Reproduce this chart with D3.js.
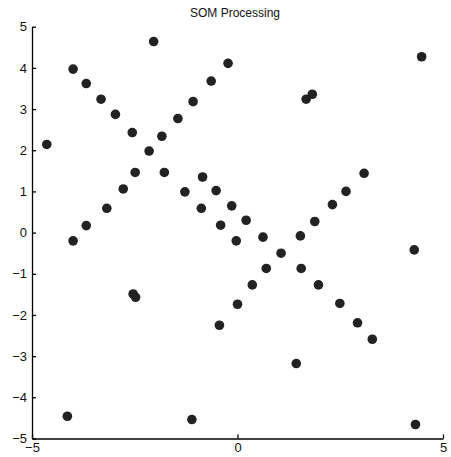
<!DOCTYPE html>
<html>
<head>
<meta charset="utf-8">
<script src="https://cdn.jsdelivr.net/npm/d3@7"></script>
<style>
  body { margin: 0; background: #fff; }
  text { font-family: "Liberation Sans", Arial, sans-serif; }
</style>
</head>
<body>
<svg id="chart" width="451" height="457"></svg>
<script>
// SOM node positions
var xs = [-4.64, -4.0, -3.68, -3.32, -2.97, -2.56, -2.15, -2.04, -1.84, -1.45, -1.08, -0.64, -0.23, 1.67, 1.82, 4.48,
  -4.0, -3.68, -3.18, -2.78, -2.49, -1.78, -1.28, -0.85, -0.88, -0.52, -0.41, -0.14, -0.03, 0.21, 0.62, 1.06, 0.70, 0.36,
  1.53, 1.55, 1.88, 1.97, 2.31, 2.64, 3.08, 4.30, -2.54, -2.48,
  0.0, 2.49, -0.44, 2.92, 3.28, 1.43, -4.14, -1.11, 4.33];
var ys = [2.14, 3.97, 3.62, 3.24, 2.87, 2.43, 1.98, 4.64, 2.34, 2.77, 3.18, 3.68, 4.11, 3.24, 3.36, 4.27,
  -0.2, 0.17, 0.59, 1.06, 1.46, 1.46, 0.99, 1.35, 0.59, 1.02, 0.18, 0.65, -0.2, 0.30, -0.11, -0.50, -0.87, -1.27,
  -0.08, -0.87, 0.27, -1.27, 0.68, 1.0, 1.44, -0.42, -1.49, -1.57,
  -1.74, -1.72, -2.25, -2.19, -2.59, -3.18, -4.46, -4.54, -4.66];
var xTicks = [-5, 0, 5];
var yTicks = [-5, -4, -3, -2, -1, 0, 1, 2, 3, 4, 5];

var svg = d3.select("#chart");
var x = d3.scaleLinear().domain([-5, 5]).range([32, 443]);
var y = d3.scaleLinear().domain([-5, 5]).range([438.5, 26.7]);

svg.append("text")
  .attr("x", 235).attr("y", 17)
  .attr("text-anchor", "middle")
  .attr("font-size", 12)
  .attr("fill", "#111")
  .text("SOM Processing");

var xAxis = svg.append("g")
  .attr("transform", "translate(0," + y(-5) + ")")
  .call(d3.axisBottom(x).tickValues(xTicks).tickSizeInner(-4).tickSizeOuter(0).tickPadding(2));
var yAxis = svg.append("g")
  .attr("transform", "translate(" + x(-5) + ",0)")
  .call(d3.axisLeft(y).tickValues(yTicks).tickSizeInner(-4).tickSizeOuter(0).tickPadding(5)
    .tickFormat(function(d) { return d < 0 ? "\u2212" + Math.abs(d) : d; }));
xAxis.selectAll("text").attr("dy", "0.9em")
  .text(function(d) { return d < 0 ? "\u2212" + Math.abs(d) : d; });

[xAxis, yAxis].forEach(function(g) {
  g.select(".domain").attr("stroke", "#000").attr("stroke-width", 1.3);
  g.selectAll(".tick line").attr("stroke", "#000").attr("stroke-width", 1.3);
  g.selectAll("text").attr("font-size", 13).attr("fill", "#111")
    .attr("font-family", "'Liberation Sans', Arial, sans-serif");
});

svg.append("g").selectAll("circle")
  .data(d3.range(xs.length))
  .join("circle")
  .attr("cx", function(i) { return x(xs[i]); })
  .attr("cy", function(i) { return y(ys[i]); })
  .attr("r", 4.8)
  .attr("fill", "#222");
</script>
</body>
</html>
